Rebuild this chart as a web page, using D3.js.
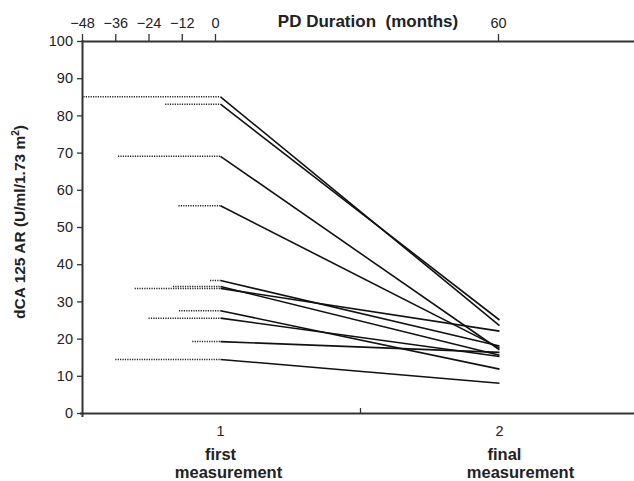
<!DOCTYPE html>
<html>
<head>
<meta charset="utf-8">
<script src="https://cdn.jsdelivr.net/npm/d3@7"></script>
<style>
  body { margin: 0; background: #fff; }
  svg { font-family: "Liberation Sans", Arial, sans-serif; }
</style>
</head>
<body>
<script>
// values, one entry per patient
var firstValues = [85.0, 83.0, 69.0, 55.7, 35.6, 34.0, 33.5, 27.5, 25.5, 19.2, 14.4];
var finalValues = [23.5, 25.0, 17.0, 17.5, 18.0, 15.5, 22.0, 11.8, 15.2, 16.3, 8.0];
var pdStartMonths = [-47.5, -18, -35, -13.2, -1.8, -15.2, -29, -13, -24, -8.2, -36];

var categories = [1, 2];
var categoryLabels = [["first", "measurement"], ["final", "measurement"]];
var monthTicks = [-48, -36, -24, -12, 0, 60];
var yTicks = [0, 10, 20, 30, 40, 50, 60, 70, 80, 90, 100];

var width = 634, height = 481;
var svg = d3.select("body")
  .append("svg")
    .attr("width", width)
    .attr("height", height);

var x = d3.scaleLinear().domain([0.5, 2.5]).range([81, 639]);
var xMonths = d3.scaleLinear().domain([-48, 0, 60]).range([82, 215, 498]);
var y = d3.scaleLinear().domain([0, 100]).range([413, 41]);

// dotted PD duration before first measurement
svg.append("g").selectAll("line")
  .data(firstValues)
  .enter()
  .append("line")
    .attr("x1", function(d, i) { return xMonths(pdStartMonths[i]); })
    .attr("x2", x(1))
    .attr("y1", function(d) { return y(d); })
    .attr("y2", function(d) { return y(d); })
    .attr("stroke", "#222")
    .attr("stroke-width", 1.5)
    .attr("stroke-dasharray", "1.2,1.2");

// first -> final
svg.append("g").selectAll("line")
  .data(firstValues)
  .enter()
  .append("line")
    .attr("x1", x(1))
    .attr("x2", x(2))
    .attr("y1", function(d) { return y(d); })
    .attr("y2", function(d, i) { return y(finalValues[i]); })
    .attr("stroke", "#111")
    .attr("stroke-width", 1.6);

// left axis
var yAxis = svg.append("g")
  .attr("transform", "translate(82,0)")
  .call(d3.axisLeft(y).tickValues(yTicks).tickSize(5).tickSizeOuter(0));
yAxis.selectAll("text").attr("font-size", 14.5).attr("fill", "#222").attr("dx", "-1");

// top axis (months)
var topAxis = svg.append("g")
  .attr("transform", "translate(0,41)")
  .call(d3.axisTop(xMonths).tickValues(monthTicks).tickSize(7).tickSizeOuter(0).tickFormat(d3.format("d")));
topAxis.selectAll("text").attr("font-size", 14.5).attr("fill", "#222").attr("dy", "-3");
topAxis.select(".domain").attr("d", "M82,0.5H634");

// bottom axis, tick between categories pointing up
var bottomAxis = svg.append("g")
  .attr("transform", "translate(0,413)")
  .call(d3.axisBottom(x).tickValues([1.5]).tickSize(-5).tickSizeOuter(0).tickFormat(""));
bottomAxis.select(".domain").attr("d", "M80,0.5H634");

svg.selectAll(".domain").attr("stroke", "#333").attr("stroke-width", 2);
svg.selectAll(".tick line").attr("stroke", "#333").attr("stroke-width", 1.3);
yAxis.select(".domain").attr("d", "M0.5,40V417");

svg.append("g").selectAll("text")
  .data(categories)
  .enter()
  .append("text")
    .attr("x", function(d) { return x(d); })
    .attr("y", 436)
    .attr("text-anchor", "middle")
    .attr("font-size", 14.5)
    .attr("fill", "#222")
    .text(function(d) { return d; });

categories.forEach(function(c, i) {
  var t = svg.append("text")
    .attr("text-anchor", "middle")
    .attr("font-size", 16.5)
    .attr("font-weight", "bold")
    .attr("fill", "#222");
  t.append("tspan").attr("x", x(c) + (i ? 5 : 0)).attr("y", 460).text(categoryLabels[i][0]);
  t.append("tspan").attr("x", x(c) + (i ? 21 : 8)).attr("y", 478).text(categoryLabels[i][1]);
});

svg.append("text")
  .attr("x", 368)
  .attr("y", 27)
  .attr("text-anchor", "middle")
  .attr("font-size", 17)
  .attr("font-weight", "bold")
  .attr("fill", "#222")
  .attr("xml:space", "preserve")
  .text("PD Duration  (months)");

var yLabel = svg.append("text")
  .attr("transform", "translate(25,222) rotate(-90)")
  .attr("text-anchor", "middle")
  .attr("font-size", 15.5)
  .attr("font-weight", "bold")
  .attr("fill", "#222");
yLabel.append("tspan").text("dCA 125 AR (U/ml/1.73 m");
yLabel.append("tspan").attr("font-size", 10).attr("dy", -6).text("2");
yLabel.append("tspan").attr("dy", 6).text(")");
</script>
</body>
</html>
